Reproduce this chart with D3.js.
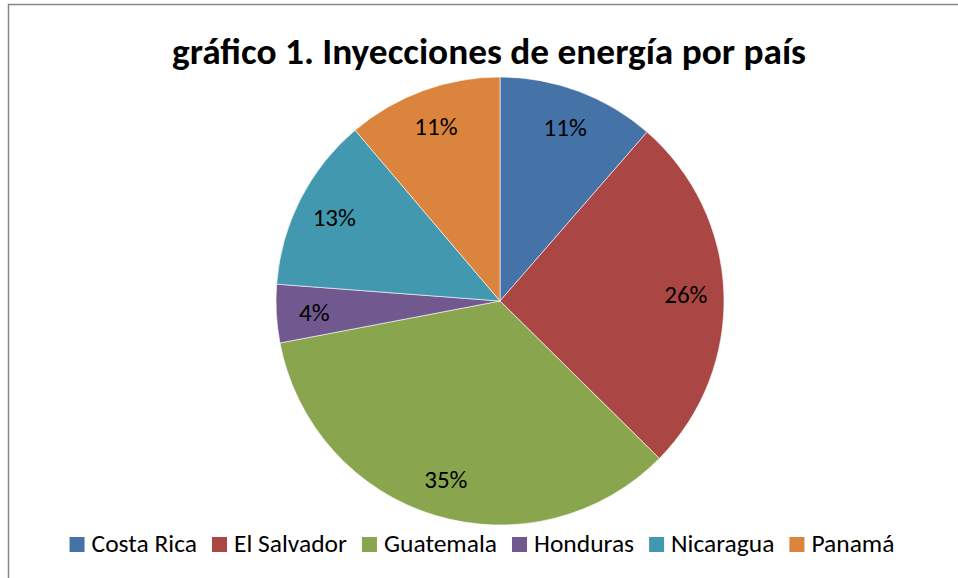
<!DOCTYPE html>
<html>
<head>
<meta charset="utf-8">
<script src="https://cdn.jsdelivr.net/npm/d3@7"></script>
<style>
  body { margin: 0; background: #fff; }
  svg { display: block; font-family: Calibri, Carlito, "Open Sans", sans-serif; }
</style>
</head>
<body>
<svg id="chart" width="958" height="578"></svg>
<script>
// data
var countries = ["Costa Rica", "El Salvador", "Guatemala", "Honduras", "Nicaragua", "Panamá"];
var shares = [11.4, 26.0, 34.6, 4.2, 12.6, 11.2];
var colors = ["#4572A7", "#AA4643", "#89A54E", "#71588F", "#4198AF", "#DB843D"];
var title = "gráfico 1. Inyecciones de energía por país";

var svg = d3.select("#chart"),
    width = +svg.attr("width"),
    height = +svg.attr("height");

// chart frame (runs off the right / bottom edge like the screenshot)
svg.append("rect")
    .attr("x", 8.5).attr("y", 4.5)
    .attr("width", width + 20).attr("height", height + 20)
    .attr("fill", "#fff")
    .attr("stroke", "#868686").attr("stroke-width", 1.5);

// title
svg.append("text")
    .attr("x", 489).attr("y", 64)
    .attr("text-anchor", "middle")
    .attr("font-weight", "bold")
    .attr("font-size", 36)
    .attr("textLength", 634)
    .attr("lengthAdjust", "spacingAndGlyphs")
    .attr("fill", "#000")
    .text(title);

var data = countries.map(function (c, i) { return {name: c, value: shares[i], color: colors[i]}; });

var cx = 500, cy = 301, radius = 224;

var pie = d3.pie().value(function (d) { return d.value; }).sort(null);
var arc = d3.arc().innerRadius(0).outerRadius(radius);
var labelArc = d3.arc().innerRadius(186).outerRadius(186);

var total = d3.sum(shares);
var pieLayer = svg.append("g").attr("transform", "translate(" + [cx, cy] + ")");
var slices = pie(data);

pieLayer.selectAll("path")
    .data(slices)
    .enter().append("path")
    .attr("d", arc)
    .attr("fill", function (d) { return d.data.color; })
    .attr("stroke", "#fff")
    .attr("stroke-width", 0.6);

pieLayer.selectAll("text.lbl")
    .data(slices)
    .enter().append("text")
    .attr("class", "lbl")
    .attr("transform", function (d) { return "translate(" + labelArc.centroid(d) + ")"; })
    .attr("text-anchor", "middle")
    .attr("dy", "0.36em")
    .attr("font-size", 25)
    .attr("fill", "#000")
    .text(function (d) { return Math.round(d.data.value / total * 100) + "%"; });

// legend, laid out from measured text widths and centred
var legend = svg.append("g").attr("class", "legend");
var items = legend.selectAll("g")
    .data(data)
    .enter().append("g");

items.append("rect")
    .attr("width", 15).attr("height", 15)
    .attr("y", -15)
    .attr("fill", function (d) { return d.color; });

items.append("text")
    .attr("x", 22)
    .attr("y", 0)
    .attr("font-size", 25.5)
    .attr("fill", "#000")
    .text(function (d) { return d.name; });

var xPos = 0;
items.each(function () {
    var w = d3.select(this).select("text").node().getComputedTextLength();
    d3.select(this).attr("transform", "translate(" + xPos + ",0)");
    xPos += 22 + w + 15;
});
var legendWidth = xPos - 15;
legend.attr("transform", "translate(" + (482 - legendWidth / 2) + ",552)");
</script>
</body>
</html>
